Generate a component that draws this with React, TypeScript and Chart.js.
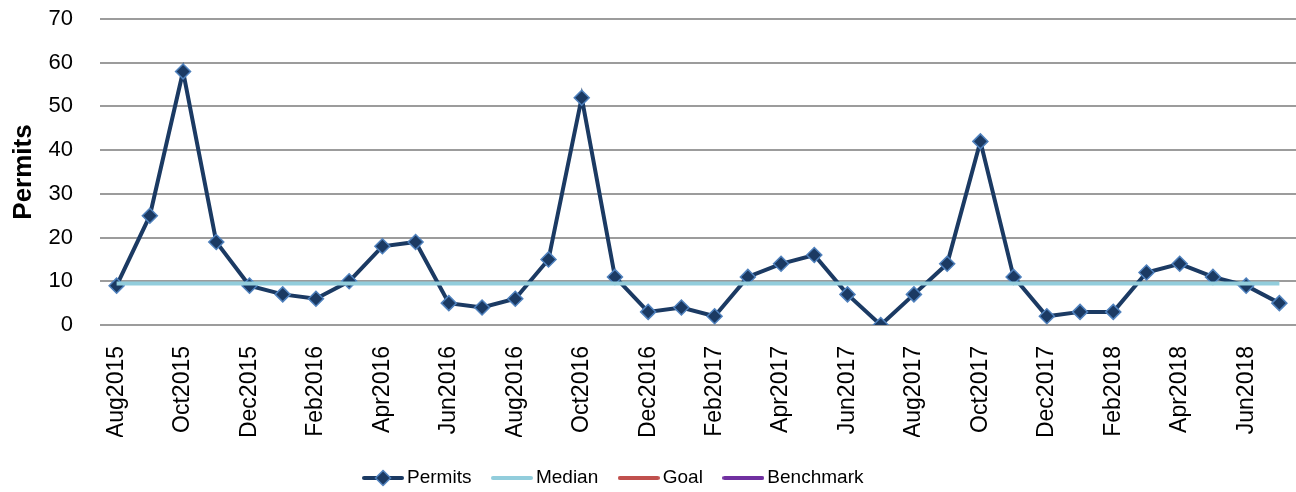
import React, { useEffect, useRef } from "react";
import { Chart, registerables } from "chart.js";

Chart.register(...registerables);

const months: string[] = [
  "Aug2015", "Sep2015", "Oct2015", "Nov2015", "Dec2015", "Jan2016",
  "Feb2016", "Mar2016", "Apr2016", "May2016", "Jun2016", "Jul2016",
  "Aug2016", "Sep2016", "Oct2016", "Nov2016", "Dec2016", "Jan2017",
  "Feb2017", "Mar2017", "Apr2017", "May2017", "Jun2017", "Jul2017",
  "Aug2017", "Sep2017", "Oct2017", "Nov2017", "Dec2017", "Jan2018",
  "Feb2018", "Mar2018", "Apr2018", "May2018", "Jun2018", "Jul2018",
];

const permits: number[] = [
  9, 25, 58, 19, 9, 7,
  6, 10, 18, 19, 5, 4,
  6, 15, 52, 11, 3, 4,
  2, 11, 14, 16, 7, 0,
  7, 14, 42, 11, 2, 3,
  3, 12, 14, 11, 9, 5,
];

const median: number[] = [
  9.5, 9.5, 9.5, 9.5, 9.5, 9.5,
  9.5, 9.5, 9.5, 9.5, 9.5, 9.5,
  9.5, 9.5, 9.5, 9.5, 9.5, 9.5,
  9.5, 9.5, 9.5, 9.5, 9.5, 9.5,
  9.5, 9.5, 9.5, 9.5, 9.5, 9.5,
  9.5, 9.5, 9.5, 9.5, 9.5, 9.5,
];

const goal: (number | null)[] = [];
const benchmark: (number | null)[] = [];

const yTicks: number[] = [0, 10, 20, 30, 40, 50, 60, 70];

const NAVY = "#1B3A63";
const MARK_EDGE = "#4F81BD";
const MEDIAN_C = "#92CDDC";
const GOAL_C = "#C0504D";
const BENCH_C = "#7030A0";

function lineSymbol(color: string, diamond: boolean): HTMLCanvasElement {
  const c = document.createElement("canvas");
  c.width = 42;
  c.height = 18;
  const ctx = c.getContext("2d")!;
  ctx.strokeStyle = color;
  ctx.lineWidth = 4;
  ctx.lineCap = "round";
  ctx.beginPath();
  ctx.moveTo(2, 9);
  ctx.lineTo(40, 9);
  ctx.stroke();
  if (diamond) {
    ctx.beginPath();
    ctx.moveTo(21, 1.5);
    ctx.lineTo(28.5, 9);
    ctx.lineTo(21, 16.5);
    ctx.lineTo(13.5, 9);
    ctx.closePath();
    ctx.fillStyle = color;
    ctx.fill();
    ctx.lineWidth = 1.5;
    ctx.strokeStyle = MARK_EDGE;
    ctx.stroke();
  }
  return c;
}

export default function App() {
  const ref = useRef<HTMLCanvasElement | null>(null);

  useEffect(() => {
    document.body.style.margin = "0";
    const canvas = ref.current;
    if (!canvas) return;

    const symbols = [
      { text: "Permits", img: lineSymbol(NAVY, true), color: NAVY, idx: 0 },
      { text: "Median", img: lineSymbol(MEDIAN_C, false), color: MEDIAN_C, idx: 1 },
      { text: "Goal", img: lineSymbol(GOAL_C, false), color: GOAL_C, idx: 2 },
      { text: "Benchmark", img: lineSymbol(BENCH_C, false), color: BENCH_C, idx: 3 },
    ];

    const legendShift = {
      id: "legendShift",
      afterLayout(chart: any) {
        const lg = chart.legend;
        if (!lg) return;
        const dx = -32;
        const dy = 5.5;
        lg.left += dx;
        lg.right += dx;
        lg.top += dy;
        lg.bottom += dy;
      },
    };

    const chart = new Chart(canvas, {
      type: "line",
      data: {
        labels: months,
        datasets: [
          {
            label: "Permits",
            data: permits,
            order: 1,
            borderColor: NAVY,
            borderWidth: 4,
            tension: 0,
            pointStyle: "rectRot",
            pointRadius: 7.5,
            pointBackgroundColor: NAVY,
            pointBorderColor: MARK_EDGE,
            pointBorderWidth: 1.5,
          },
          {
            label: "Median",
            data: median,
            order: 0,
            borderColor: MEDIAN_C,
            borderWidth: 4,
            pointRadius: 0,
          },
          {
            label: "Goal",
            data: goal,
            order: 2,
            borderColor: GOAL_C,
            borderWidth: 4,
            pointRadius: 0,
          },
          {
            label: "Benchmark",
            data: benchmark,
            order: 3,
            borderColor: BENCH_C,
            borderWidth: 4,
            pointRadius: 0,
          },
        ],
      },
      options: {
        animation: false,
        responsive: false,
        devicePixelRatio: 1,
        layout: { autoPadding: false, padding: { top: 19, left: 0, right: 0, bottom: 0 } },
        plugins: {
          tooltip: { enabled: false },
          title: { display: false },
          legend: {
            display: true,
            position: "bottom",
            labels: {
              usePointStyle: true,
              pointStyleWidth: 29,
              padding: 26,
              color: "#000",
              font: { family: "'Liberation Sans', sans-serif", size: 19 },
              generateLabels: () =>
                symbols.map((s) => ({
                  text: s.text,
                  pointStyle: s.img as any,
                  fillStyle: s.color,
                  strokeStyle: s.color,
                  lineWidth: 0,
                  hidden: false,
                  datasetIndex: s.idx,
                })),
            },
          },
        },
        scales: {
          x: {
            type: "category",
            offset: true,
            grid: { display: false, drawTicks: false },
            border: { display: false },
            afterFit: (s: any) => {
              s.height = 112;
              s.paddingLeft = 0;
              s.paddingRight = 0;
            },
            ticks: {
              autoSkip: false,
              minRotation: 90,
              maxRotation: 90,
              padding: 21,
              color: "#000",
              font: { family: "'Liberation Sans', sans-serif", size: 23 },
              callback: (_v: any, i: number) => (i % 2 === 0 ? months[i] : ""),
            },
          },
          y: {
            min: 0,
            max: 70,
            afterFit: (s: any) => {
              s.width = 100;
              s.paddingTop = 0;
              s.paddingBottom = 0;
            },
            afterBuildTicks: (s: any) => {
              s.ticks = yTicks.map((v) => ({ value: v }));
            },
            grid: { color: "#9C9C9C", lineWidth: 2, drawTicks: false },
            border: { display: false },
            ticks: {
              padding: 27,
              color: "#000",
              font: { family: "'Liberation Sans', sans-serif", size: 22 },
            },
            title: {
              display: true,
              text: "Permits",
              color: "#000",
              padding: { top: 8, bottom: 0 },
              font: { family: "'Liberation Sans', sans-serif", size: 26, weight: "bold" },
            },
          },
        },
      },
      plugins: [legendShift],
    });

    return () => chart.destroy();
  }, []);

  return (
    <div style={{ width: 1296, height: 492 }}>
      <canvas ref={ref} width={1296} height={492} style={{ width: 1296, height: 492, display: "block" }} />
    </div>
  );
}
